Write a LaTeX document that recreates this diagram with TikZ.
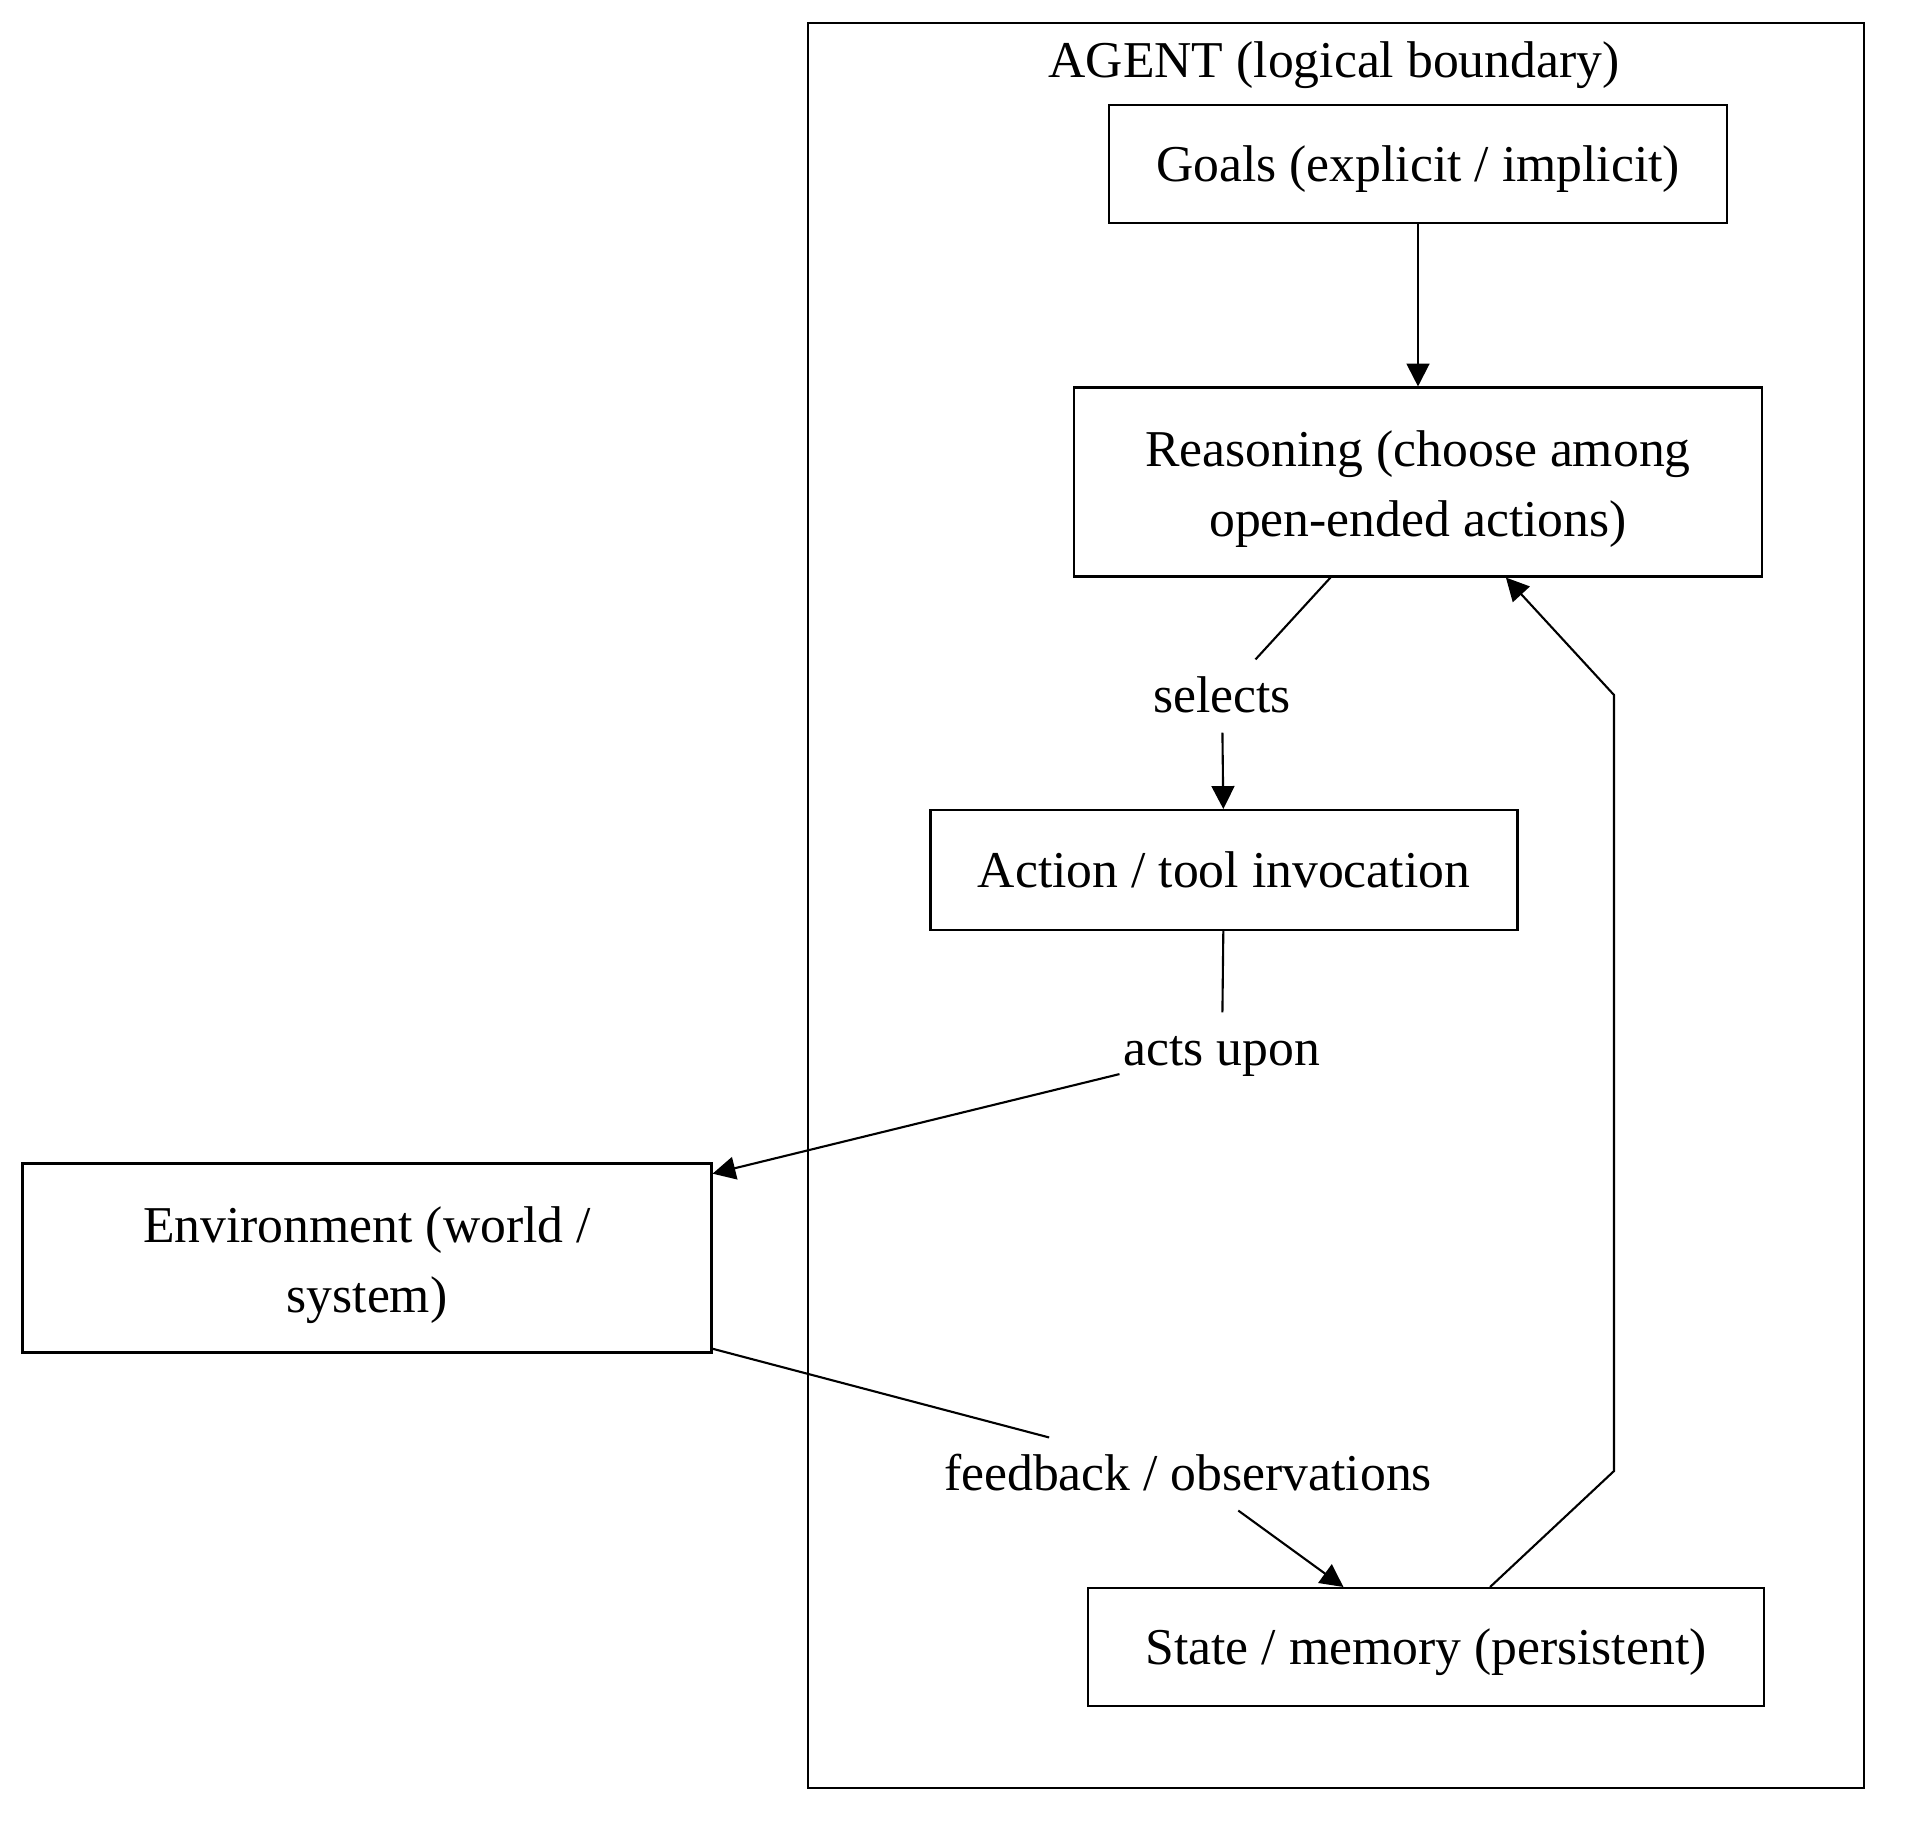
\documentclass[tikz,border=0pt]{standalone}
\usepackage{fontspec}
\setmainfont{Liberation Serif}
\usetikzlibrary{arrows.meta}

\tikzset{
  box/.style={draw, line width=0.6pt, minimum height=1.18cm, align=center,
    font=\fontsize{14.7}{20}\selectfont, text height=13pt, text depth=3pt},
  twobox/.style={box, minimum height=1.89cm, text height=34pt, text depth=3pt},
  lbl/.style={inner xsep=1pt, inner ysep=2.45pt, text height=12.5pt, text depth=3pt,
    font=\fontsize{14.7}{20}\selectfont},
  arr/.style={line width=0.6pt, -{Triangle[length=6.5pt,width=6.5pt]}},
  edge/.style={line width=0.6pt}
}

\begin{document}
\begin{tikzpicture}
\useasboundingbox (0,0) rectangle (19.11,-18.33);
\node[draw, line width=0.6pt, minimum width=10.56cm, minimum height=17.65cm] (agent) at (13.36,-9.055) {};
\node[lbl] (agenttitle) at (13.34,-0.61) {AGENT (logical boundary)};

\node[box, minimum width=6.18cm] (goals) at (14.18,-1.64) {Goals (explicit / implicit)};
\node[twobox, minimum width=6.88cm] (reason) at (14.18,-4.82) {Reasoning (choose among\\open-ended actions)};
\node[lbl] (selects) at (12.22,-6.96) {selects};
\node[box, minimum width=5.87cm, minimum height=1.2cm] (action) at (12.24,-8.70) {Action / tool invocation};
\node[lbl] (acts) at (12.22,-10.49) {acts upon};
\node[twobox, minimum width=6.89cm] (env) at (3.67,-12.58) {Environment (world /\\system)};
\node[lbl] (feedback) at (11.88,-14.74) {feedback / observations};
\node[box, minimum width=6.76cm] (state) at (14.26,-16.47) {State / memory (persistent)};

\coordinate (bend1) at (16.14,-14.71);
\coordinate (bend2) at (16.14,-6.95);

\draw[arr] (goals) -- (reason);
\draw[edge] (reason) -- (selects);
\draw[arr] (selects) -- (action);
\draw[edge] (action) -- (acts);
\draw[arr] (acts) -- (env);
\draw[edge] (env) -- (feedback);
\draw[arr] (feedback) -- (state);
\draw[arr] (state) -- (bend1) -- (bend2) -- (reason);
\end{tikzpicture}
\end{document}
